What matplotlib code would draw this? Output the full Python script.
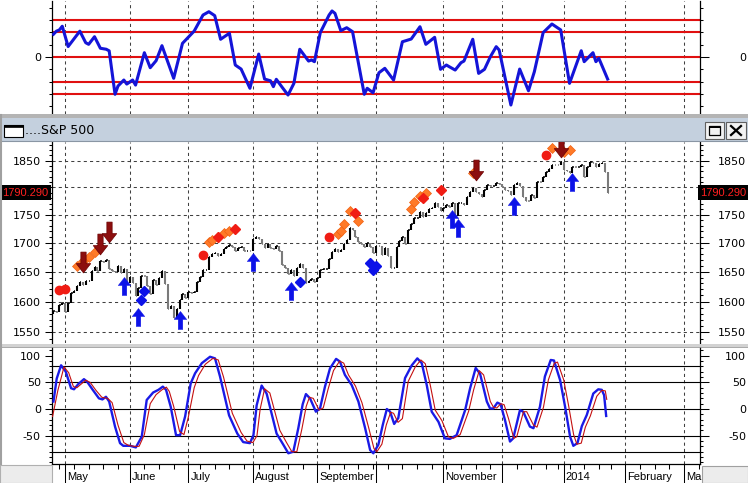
import numpy as np
import matplotlib
matplotlib.use("Agg")
import matplotlib.pyplot as plt
from matplotlib.path import Path
from matplotlib.patches import Rectangle
from matplotlib.lines import Line2D
from matplotlib.ticker import FixedLocator, NullFormatter, FixedFormatter
import matplotlib.transforms as mtransforms

plt.rcParams['font.family'] = ['DejaVu Sans']

W, H = 748, 483

# ---------------- data ----------------
title = "....S&P 500"
prev_close0 = 1578.79
closes = [1585.16, 1582.24, 1593.61, 1597.57,
  1582.70, 1597.59, 1614.42, 1617.50, 1625.96, 1632.69, 1626.67, 1633.70, 1633.77, 1650.34, 1658.78,
  1650.47, 1667.47, 1666.29, 1669.16, 1655.35, 1650.51, 1649.60, 1660.06, 1648.36, 1654.41, 1630.74,
  1640.42, 1631.38, 1608.90, 1622.56, 1643.38, 1642.81, 1626.13, 1612.52, 1636.36, 1626.73,
  1639.04, 1651.81, 1628.93, 1588.19, 1592.43, 1573.09, 1588.03, 1603.26, 1613.20, 1606.28,
  1614.96, 1614.08, 1615.41, 1631.89, 1640.46, 1652.32, 1652.62, 1675.02, 1680.19, 1682.50, 1676.26,
  1680.91, 1689.37, 1692.09, 1695.53, 1692.39, 1685.94, 1690.25, 1691.65, 1685.33, 1685.96, 1685.73,
  1706.87, 1709.67, 1707.14, 1697.37, 1690.91, 1697.48, 1691.42, 1689.47, 1694.16, 1685.39, 1661.32,
  1655.83, 1646.06, 1652.35, 1642.80, 1656.96, 1663.50, 1656.78, 1630.48, 1634.96, 1638.17, 1632.97,
  1639.77, 1653.08, 1655.08, 1655.17, 1671.71, 1683.99, 1689.13, 1683.42, 1687.99, 1697.60,
  1704.76, 1725.52, 1722.34, 1709.91, 1701.84, 1697.42, 1692.77, 1698.67, 1691.75, 1681.55,
  1695.00, 1693.87, 1678.66, 1690.50, 1676.12, 1655.45, 1656.40, 1692.56, 1703.20, 1710.14, 1698.06,
  1721.54, 1733.15, 1744.50, 1744.66, 1754.67, 1746.38, 1752.07, 1759.77, 1762.11, 1771.95, 1763.31, 1756.54,
  1761.64, 1767.93, 1762.97, 1770.49, 1747.15, 1770.61, 1771.89, 1767.69, 1782.00, 1790.62,
  1798.18, 1791.53, 1787.87, 1781.37, 1795.85, 1804.76, 1802.48, 1802.75, 1807.23, 1805.81,
  1800.90, 1795.15, 1792.81, 1785.03, 1805.09, 1808.37, 1802.62, 1782.22, 1775.50, 1775.32, 1786.54,
  1781.00, 1810.65, 1809.60, 1818.32, 1827.99, 1833.32, 1842.02, 1841.40, 1841.07, 1848.36,
  1831.98, 1831.37, 1826.77, 1837.88, 1837.49, 1838.13, 1842.37, 1819.20, 1838.88, 1848.38,
  1845.89, 1838.70, 1843.80, 1844.86, 1828.46, 1790.29]

month_idx = [4, 26, 46, 68, 90, 110, 133, 153, 174, 195, 215]
month_labels = ['May', 'June', 'July', 'August', 'September', '', 'November', '', '2014', 'February', 'March']
week_idx = [2, 7, 12, 17, 22, 26, 31, 36, 41, 46, 50, 55, 60, 65, 70, 75, 80, 85, 90, 94, 99, 104, 109,
            114, 119, 124, 129, 134, 139, 144, 149, 153, 158, 163, 168, 172, 176, 181, 186, 190, 195,
            200, 205, 210, 215, 220]

# top oscillator (units of one tick step)
top_x = [0, 1, 2, 3, 5, 9, 11, 12, 14, 16, 18, 19, 21, 22, 24, 25, 27, 28, 31, 33, 35, 37, 41, 44, 48,
         51, 53, 55, 57, 60, 62, 64, 67, 70, 72, 74, 75, 76, 78, 80, 82, 84, 87, 88, 89, 91, 94, 95,
         96, 98, 100, 102, 106, 107, 109, 111, 113, 116, 119, 122, 125, 127, 130, 132, 134, 135, 137,
         139, 140, 143, 145, 147, 149, 151, 152, 156, 159, 162, 164, 167, 170, 173, 176, 180, 181,
         184, 185, 186, 189]
top_y = [1.85, 2.1, 2.2, 2.5, 0.85, 2.1, 1.16, 1.03, 1.65, 0.71, 0.63, 0.5, -3.03, -2.36, -1.87, -2.2,
         -1.87, -2.28, 0.35, -0.87, -0.3, 0.92, -1.73, 1.11, 2.11, 3.41, 3.68, 3.36, 1.44, 1.93, -0.65,
         -0.98, -2.54, 0.24, -1.79, -1.93, -2.41, -1.81, -2.46, -3.09, -2.14, 0.63, -0.33, -0.24, -0.38,
         1.98, 3.41, 3.74, 3.55, 2.14, 2.38, 2.06, -3.03, -2.54, -2.9, -1.28, -0.92, -1.87, 1.24, 1.46,
         2.46, 1.03, 1.6, -1.0, -0.65, -0.79, -1.06, -0.46, -0.33, 1.44, -1.33, -1.0, 0.02, 0.84, 0.57,
         -3.9, -0.98, -2.74, -1.2, 1.98, 2.68, 2.2, -2.14, 0.51, -0.38, 0.35, -0.38, -0.1, -1.79]
top_levels = [3, 2, 0, -2, -3]

# stochastic %K (blue) and %D (red)
k_x = [0.0, 1.1, 2.6, 4.2, 6.0, 7.0, 8.5, 10.4, 11.5, 13.4, 15.5, 16.7, 17.9, 19.0, 21.0, 22.7, 23.8,
       26.1, 28.1, 30.1, 31.8, 34.0, 35.8, 37.3, 38.4, 40.0, 41.8, 43.2, 44.9, 46.8, 48.3, 50.6, 53.4,
       55.1, 56.8, 59.9, 62.7, 64.7, 67.0, 68.2, 69.3, 71.0, 72.7, 76.1, 78.4, 80.1, 81.8, 83.5, 85.0,
       86.1, 87.5, 89.5, 90.9, 92.6, 94.3, 96.4, 97.7, 99.4, 101.7, 104.0, 106.3, 108.0, 109.1, 110.8,
       112.3, 113.7, 114.8, 116.2, 117.6, 119.9, 122.2, 124.1, 125.6, 127.3, 129.0, 131.3, 133.5,
       135.2, 137.5, 140.4, 142.1, 144.0, 145.5, 147.8, 148.9, 150.0, 151.4, 152.5, 154.0, 155.7,
       156.8, 159.1, 160.2, 162.5, 163.7, 165.9, 167.6, 169.6, 170.7, 172.8, 174.5, 176.2, 177.3,
       178.7, 180.2, 181.9, 184.1, 185.8, 187.0, 187.8, 188.5]
k_y = [14, 57, 82, 70, 39, 37, 47, 56, 51, 36, 20, 18, 23, 14, -33, -64, -69, -69, -72, -52,
       17, 31, 36, 42, 36, 4, -49, -49, -14, 48, 67, 86, 98, 95, 61, -12, -46, -62, -64, -49,
       7, 44, 29, -46, -67, -83, -80, -36, 9, 28, 20, -5, 1, 42, 76, 94, 89, 64, 45, 14,
       -36, -77, -83, -67, -30, 0, -5, -28, -17, 58, 82, 95, 86, 45, -5, -24, -55, -56, -49, -2,
       39, 77, 66, 14, 1, 1, 12, 9, -21, -61, -55, -2, -5, -33, -36, 4, 61, 92, 91, 54,
       4, -52, -69, -64, -32, -11, 29, 37, 36, 26, -13]
d_x = [-0.3, 1.5, 3.6, 5.2, 6.8, 8, 9.5, 11, 12.5, 14.5, 16.5, 18.5, 20, 22, 24, 25.5, 27.5, 29.2,
       31, 33, 35, 37, 38.5, 39.5, 41, 43, 44.5, 46, 48, 49.5, 51.8, 54.4, 56.2, 58, 61, 64, 66, 68,
       69.4, 70.5, 72, 73.8, 77.2, 79.5, 81.3, 83, 84.7, 86.2, 87.3, 88.6, 90.6, 92, 93.7, 95.5, 97.6,
       99, 100.6, 103, 105.2, 107.5, 109.3, 110.3, 112, 113.5, 115, 116, 117.5, 119, 121, 123.4, 125.3,
       126.8, 128.5, 130.2, 132.5, 134.7, 136.4, 138.7, 141.6, 143.3, 145.2, 146.7, 149, 150.1, 151.2,
       152.6, 153.7, 155.2, 157, 158, 160.3, 161.4, 163.7, 164.9, 167.1, 168.8, 170.8, 171.9, 174,
       175.7, 177.4, 178.5, 180, 181.4, 183.1, 185.3, 187, 188.2, 188.7]
d_y = [-14, 35, 79, 68, 42, 40, 47, 54, 50, 35, 22, 20, 12, -30, -63, -68, -70, -70, -48, 10, 27, 36,
       41, 33, 5, -42, -48, -15, 40, 63, 84, 95, 92, 60, -8, -44, -60, -63, -50, 0, 38, 30, -40, -63,
       -80, -80, -38, 5, 22, 20, -2, 2, 38, 72, 90, 86, 64, 43, 12, -35, -74, -80, -66, -30, -6, -8,
       -25, -18, 52, 79, 92, 85, 45, -2, -22, -52, -55, -48, -4, 36, 72, 64, 14, 3, 2, 10, 8, -18,
       -55, -52, -5, -5, -30, -34, 3, 55, 86, 88, 55, 6, -48, -66, -64, -34, -13, 24, 35, 34, 18]
stoch_levels = [80, 50, 0, -50, -80]

# signal markers (bar index, price)
red_dot_idx = [2, 4, 51, 94, 168]
red_dot_val = [1619, 1620, 1679, 1710, 1861]
red_dia_idx = [56, 62, 103, 126, 132]
red_dia_val = [1710, 1724, 1752, 1780, 1795]
orange_idx = [8, 10, 12, 14, 16, 53, 54, 56, 58, 60, 97, 98, 99, 101, 104, 122, 123, 125, 127, 143, 170, 174, 176]
orange_val = [1660, 1668, 1675, 1684, 1692, 1702, 1705, 1710, 1717, 1720, 1715, 1721, 1734, 1757, 1738,
              1761, 1773, 1783, 1789, 1827, 1874, 1867, 1870]
down_idx = [10, 16, 19, 144, 173]
down_val = [1667, 1698, 1718, 1832, 1876]
up_idx = [24, 29, 43, 68, 81, 136, 138, 157, 177]
up_val = [1625, 1575, 1570, 1666, 1618, 1742, 1726, 1766, 1809]
blue_dia_idx = [30, 31, 84, 108, 109, 110]
blue_dia_val = [1602, 1618, 1633, 1664, 1653, 1660]

price_major = [1550, 1600, 1650, 1700, 1750, 1800, 1850]
price_labels = ['1550', '1600', '1650', '1700', '1750', '', '1850']

# ---------------- figure ----------------
fig = plt.figure(figsize=(W / 100, H / 100), dpi=100)
fig.patch.set_facecolor('white')


def frac(x0, y0, x1, y1):
    return [x0 / W, 1 - y1 / H, (x1 - x0) / W, (y1 - y0) / H]


def frect(x0, y0, x1, y1, **kw):
    r = Rectangle((x0 / W, 1 - y1 / H), (x1 - x0) / W, (y1 - y0) / H,
                  transform=fig.transFigure, **kw)
    fig.add_artist(r)
    return r


def fline(x0, y0, x1, y1, **kw):
    fig.add_artist(Line2D([x0 / W, x1 / W], [1 - y0 / H, 1 - y1 / H], transform=fig.transFigure, **kw))


PL, PR = 52, 700
ax_top = fig.add_axes(frac(PL, 1, PR, 114))
ax_px = fig.add_axes(frac(PL, 142, PR, 343))
ax_st = fig.add_axes(frac(PL, 347, PR, 464))

GRID = dict(color='#404040', linewidth=0.75, linestyle=(0, (3, 3)))


def setup(ax, ylim, major, labels, minor, scale='linear', bottom_spine=False):
    ax.set_yscale(scale)
    ax.set_ylim(*ylim)
    ax.set_xlim(-0.5, 220.5)
    ax.set_xticks(month_idx)
    ax.xaxis.grid(True, **GRID)
    for s in ['top', 'right']:
        ax.spines[s].set_visible(False)
    ax.spines['bottom'].set_visible(bottom_spine)
    ax.spines['left'].set_linewidth(0.9)
    ax.yaxis.set_major_locator(FixedLocator(major))
    ax.yaxis.set_major_formatter(FixedFormatter(labels))
    ax.yaxis.set_minor_locator(FixedLocator(minor))
    ax.yaxis.set_minor_formatter(NullFormatter())
    ax.tick_params(axis='y', which='major', length=5, width=0.75, pad=3, labelsize=8)
    ax.tick_params(axis='y', which='minor', length=2.5, width=0.75)
    axr = ax.twinx()
    axr.set_yscale(scale)
    axr.set_ylim(*ylim)
    for s in ['top', 'left', 'bottom']:
        axr.spines[s].set_visible(False)
    axr.spines['right'].set_linewidth(0.9)
    axr.yaxis.set_major_locator(FixedLocator(major))
    axr.yaxis.set_major_formatter(FixedFormatter(labels))
    axr.yaxis.set_minor_locator(FixedLocator(minor))
    axr.yaxis.set_minor_formatter(NullFormatter())
    axr.tick_params(axis='y', which='major', length=6.5, width=0.75, pad=26.6, labelsize=8)
    axr.tick_params(axis='y', which='minor', length=2.2, width=0.75)
    for t in axr.get_yticklabels():
        t.set_horizontalalignment('right')
    return axr


# top panel
axr_top = setup(ax_top, (-4.63, 4.55), [0], ['0'], [-4, -3, -2, -1, 1, 2, 3, 4])
ax_top.tick_params(axis='x', which='both', bottom=False, labelbottom=False)
for lv in top_levels:
    ax_top.axhline(lv, color='#e01010', lw=1.5, zorder=1.6)
ax_top.plot(top_x, top_y, color='#1414d8', lw=2.2, zorder=3, solid_joinstyle='round')

# price panel
axr_px = setup(ax_px, (1533.0, 1886.0), price_major, price_labels,
               list(range(1540, 1890, 10)), scale='log')
ax_px.tick_params(axis='x', which='both', bottom=False, labelbottom=False)
ax_px.yaxis.grid(True, which='major', **GRID)

idx = np.arange(len(closes))
prev = np.array([prev_close0] + closes[:-1])
cl = np.array(closes)
cols = np.where(cl >= prev, '#000000', '#7a7a7a')
ax_px.vlines(idx, np.minimum(prev, cl), np.maximum(prev, cl), colors=cols, lw=1.5, zorder=2)
ax_px.hlines(cl, idx, idx + 0.5, colors=cols, lw=1.1, zorder=2)

verts = [(0, 0.75), (0.52, 0.08), (0.19, 0.08), (0.19, -0.75), (-0.19, -0.75), (-0.19, 0.08), (-0.52, 0.08), (0, 0.75)]
codes = [Path.MOVETO] + [Path.LINETO] * 6 + [Path.CLOSEPOLY]
UP = Path(verts, codes)
DOWN = Path([(x, -y) for x, y in verts], codes)

ax_px.plot(orange_idx, orange_val, ls='none', marker='D', ms=5.0, mfc='#ff7a28', mec='#f06010', mew=0.5, zorder=4)
ax_px.plot(red_dot_idx, red_dot_val, ls='none', marker='o', ms=6.0, mfc='#f01c14', mec='#f01c14', zorder=4)
ax_px.plot(red_dia_idx, red_dia_val, ls='none', marker='D', ms=5.0, mfc='#f01c14', mec='#f01c14', zorder=4)
ax_px.plot(down_idx, down_val, ls='none', marker=DOWN, ms=15, mfc='#8c0e0e', mec='#6a0000', mew=0.5, zorder=5)
ax_px.plot(up_idx, up_val, ls='none', marker=UP, ms=13, mfc='#0c12e8', mec='#0c12e8', mew=0.3, zorder=5)
ax_px.plot(blue_dia_idx, blue_dia_val, ls='none', marker='D', ms=5.5, mfc='#0c12e8', mec='#0c12e8', zorder=5)

# last price tags
last = closes[-1]
tr_l = mtransforms.blended_transform_factory(ax_px.transAxes, ax_px.transData)
ax_px.text((48.5 - PL) / (PR - PL), last, f'{last:.3f}', transform=tr_l, ha='right', va='center',
           color='#ff2020', fontsize=8, family='Liberation Sans', clip_on=False, zorder=10,
           bbox=dict(boxstyle='square,pad=0.25', fc='black', ec='none'))
tr_r = mtransforms.blended_transform_factory(axr_px.transAxes, axr_px.transData)
axr_px.text((746.5 - PL) / (PR - PL), last, f'{last:.3f}', transform=tr_r, ha='right', va='center',
            color='#ff2020', fontsize=8, family='Liberation Sans', clip_on=False, zorder=10,
            bbox=dict(boxstyle='square,pad=0.25', fc='black', ec='none'))

# stochastic panel
axr_st = setup(ax_st, (-103.1, 116.3), [-50, 0, 50, 100], ['-50', '0', '50', '100'],
               [v for v in range(-100, 111, 10)], bottom_spine=True)
ax_st.spines['bottom'].set_linewidth(0.9)
for lv in stoch_levels:
    ax_st.axhline(lv, color='black', lw=0.8, zorder=1.6)
ax_st.plot(k_x, k_y, color='#1a1ae6', lw=1.7, zorder=3, solid_joinstyle='round')
ax_st.plot(d_x, d_y, color='#c41010', lw=0.8, zorder=4)
ax_st.xaxis.set_minor_locator(FixedLocator(week_idx))
ax_st.tick_params(axis='x', which='major', length=13.7, width=0.75, labelbottom=False)
ax_st.tick_params(axis='x', which='minor', length=3.6, width=0.75)
lab_tr = mtransforms.offset_copy(ax_st.get_xaxis_transform(), fig=fig, x=2, y=-12.5, units='dots')
for mi, lab in zip(month_idx, month_labels):
    if lab:
        ax_st.text(mi, 0, lab, transform=lab_tr, ha='left', va='center', fontsize=8,
                   family='Liberation Sans', clip_on=False)

# ---------------- window chrome ----------------
frect(0, 114.5, W, 118, fc='#b4b4b4', ec='none', zorder=1)
frect(0, 118, W, 141, fc='#c4d0de', ec='none', zorder=1)
fline(0, 141, W, 141, color='#8a96a4', lw=0.8, zorder=2)
frect(4, 124.5, 23, 137, fc='white', ec='black', lw=0.8, zorder=2)
frect(4, 124.5, 23, 127, fc='black', ec='black', lw=0.5, zorder=2)
fig.text(25 / W, 1 - 130.5 / H, title, fontsize=9, va='center', ha='left', family='DejaVu Sans')
frect(705, 122, 724, 139, fc='#f2f2f2', ec='#606060', lw=0.8, zorder=2)
frect(709, 126, 720, 135, fc='none', ec='black', lw=0.9, zorder=3)
frect(709, 126, 720, 128, fc='black', ec='none', zorder=3)
frect(726, 122, 746, 139, fc='#f2f2f2', ec='#606060', lw=0.8, zorder=2)
fline(731, 126, 741, 135, color='black', lw=1.6, zorder=3)
fline(731, 135, 741, 126, color='black', lw=1.6, zorder=3)
frect(0, 343.5, W, 346.5, fc='#d2d2d2', ec='none', zorder=1)
fline(0, 346.5, W, 346.5, color='#9a9a9a', lw=0.6, zorder=2)
fline(1, 115, 1, 466, color='#a0a0a0', lw=1.5, zorder=2)
frect(0, 465, 52, 483, fc='#ececec', ec='#b0b0b0', lw=0.8, zorder=10)
frect(702, 466, W, 483, fc='#ececec', ec='#a0a0a0', lw=0.8, zorder=10)

fig.savefig('out.png', dpi=100, facecolor='white')
